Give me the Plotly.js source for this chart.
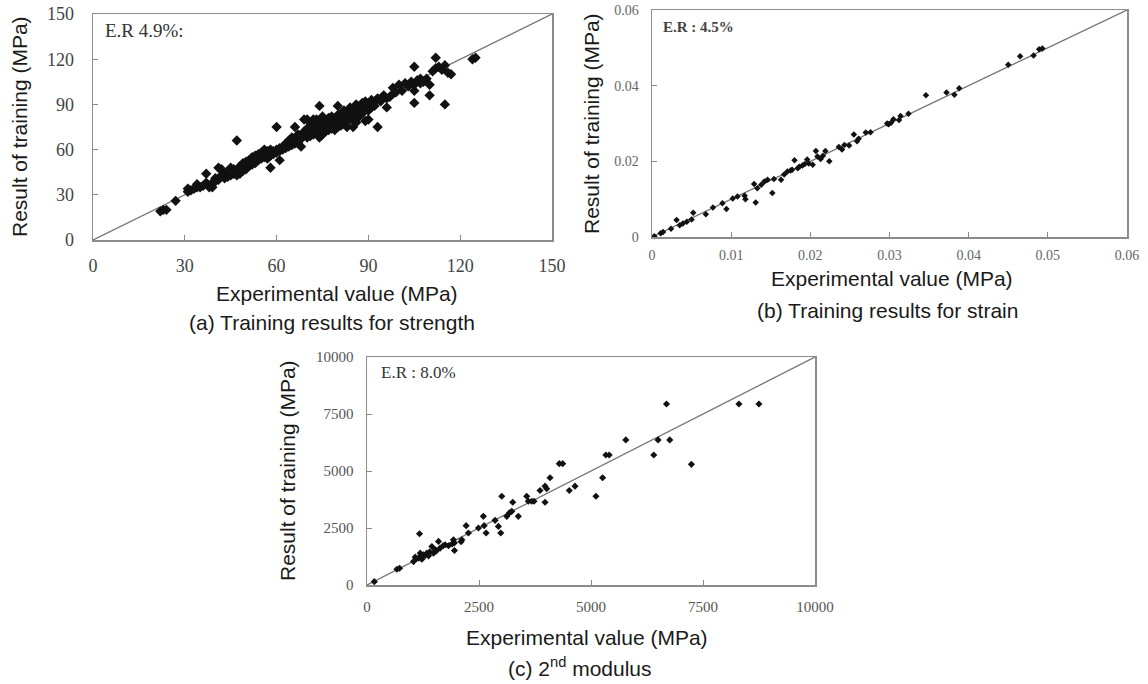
<!DOCTYPE html>
<html><head><meta charset="utf-8">
<script src="https://cdn.plot.ly/plotly-3.0.1.min.js"></script>
<style>html,body{margin:0;padding:0;background:#fff;}#chart{width:1148px;height:684px;}</style>
</head><body><div id="chart"></div>
<script>
// ---------- DATA ----------
// (a) strength
const aExp = [
 22,23,24,27,
 31,31,32,33,34,34,35,36,37,37,
 38,39,39,40,40,41,41,42,42,43,43,
 44,44,45,45,45,46,46,47,47,47,
 48,48,48,49,49,49,50,50,50,
 51,51,51,52,52,52,53,53,53,
 54,54,54,55,55,55,56,56,56,
 57,57,57,58,58,58,58,59,59,
 60,60,60,61,61,61,62,62,63,63,
 64,64,65,65,65,66,66,66,67,67,67,
 68,68,68,69,69,69,70,70,70,70,
 71,71,71,72,72,72,72,73,73,73,73,
 74,74,74,74,75,75,75,75,76,76,76,
 77,77,77,78,78,78,79,79,79,
 80,80,80,80,81,81,81,82,82,82,
 83,83,83,84,84,84,85,85,85,
 86,86,86,87,87,88,88,88,
 89,89,89,90,90,90,91,91,92,92,
 93,93,94,95,96,96,97,98,98,99,
 100,101,102,103,104,105,105,105,105,106,
 107,107,108,109,110,110,111,112,112,113,
 114,115,115,116,117,124,125
];
const aPred = [
 19,20,20,26,
 32,34,33,34,35,37,35,36,44,38,
 35,35,38,39,41,40,48,47,43,41,44,
 45,42,43,46,48,44,47,66,43,45,
 44,47,49,46,48,51,47,50,52,
 49,50,53,50,52,55,51,54,56,
 53,55,57,54,56,58,55,57,60,
 54,57,59,48,56,58,60,57,59,
 75,58,60,53,59,61,60,62,61,64,
 62,66,63,65,68,75,64,67,64,66,70,
 62,67,69,70,72,80,68,71,74,80,
 69,73,78,70,72,76,80,71,74,77,80,
 68,72,76,89,70,74,78,82,72,75,79,
 73,77,81,74,78,82,73,76,80,
 89,75,78,83,76,80,84,77,81,86,
 75,79,83,80,85,88,75,82,87,
 78,84,90,82,86,84,88,91,
 79,87,92,80,86,90,88,93,89,92,
 75,94,92,96,88,94,95,97,101,98,
 103,99,104,102,105,115,91,99,103,106,
 104,107,105,107,96,103,112,121,114,115,
 113,90,116,111,110,120,121
];
// (b) strain
const bExp = [
 0.0003,0.0011,0.0014,0.0024,0.0031,0.0035,0.0039,0.0044,0.005,0.0052,
 0.0068,0.0077,0.0089,0.0094,0.0102,0.0108,0.0117,0.0118,0.0131,0.0129,
 0.0133,0.0138,0.0142,0.0146,0.0152,0.0154,0.0163,0.0167,0.0171,0.0175,
 0.0177,0.018,0.0184,0.0186,0.019,0.0193,0.0196,0.0198,0.0203,0.0207,
 0.0209,0.0213,0.0216,0.0219,0.0224,0.0236,0.024,0.0243,0.0249,0.0255,
 0.0259,0.0261,0.027,0.0276,0.0297,0.0299,0.0302,0.0305,0.0314,0.0312,
 0.0324,0.0346,0.0372,0.0382,0.0388,0.045,0.0465,0.0482,0.0489,0.0493
];
const bPred = [
 0.0002,0.001,0.0013,0.0022,0.0045,0.0031,0.0036,0.004,0.0046,0.0064,
 0.006,0.0078,0.0089,0.0074,0.0102,0.0107,0.0109,0.01,0.0091,0.014,
 0.0129,0.0138,0.0147,0.0151,0.0116,0.0153,0.0151,0.0165,0.0173,0.0176,
 0.0178,0.0203,0.0182,0.0186,0.0189,0.0193,0.0205,0.0194,0.0191,0.0227,
 0.0213,0.0206,0.0215,0.0227,0.02,0.0238,0.0231,0.0243,0.0242,0.0271,
 0.0253,0.026,0.0276,0.0277,0.03,0.0298,0.0302,0.0311,0.032,0.0309,
 0.0326,0.0375,0.0382,0.0376,0.0393,0.0455,0.0478,0.048,0.0496,0.0498
];
// (c) 2nd modulus
const cExp = [
 163,668,727,1038,1076,1100,1150,1172,1188,1200,1225,1261,1300,1337,1373,1400,
 1448,1484,1522,1550,1596,1633,1700,1745,1818,1900,1930,1950,1952,2100,2117,2213,
 2264,2487,2598,2614,2658,2859,2933,2986,3008,3120,3178,3231,3253,3378,3565,3601,
 3677,3728,3862,3974,3974,4011,4085,4292,4368,4515,4643,5110,5259,5332,5406,5777,
 6401,6497,6685,6758,7241,8302,8748
];
const cPred = [
 146,692,736,1028,1221,1150,1177,2249,1398,1250,1133,1323,1300,1398,1279,1450,
 1689,1398,1543,1500,1910,1618,1720,1764,1720,1800,1984,1850,1513,1900,1984,2601,
 2279,2500,3012,2601,2279,2836,2571,2279,3893,3012,3160,3232,3629,3012,3893,3673,
 3673,3673,4145,3629,4335,4220,4704,5322,5322,4145,4335,3893,4704,5701,5701,6362,
 5701,6362,7937,6362,5291,7937,7937
];
// axes
const rangeA = [0, 150];
const rangeB = [0, 0.06];
const rangeC = [0, 10000];
const ticksA = [0, 30, 60, 90, 120, 150];
const ticksBx = [0, 0.01, 0.02, 0.03, 0.04, 0.05, 0.06];
const tickTextBx = ['0', '0.01', '0.02', '0.03', '0.04', '0.05', '0.06'];
const ticksBy = [0, 0.02, 0.04, 0.06];
const tickTextBy = ['0', '0.02', '0.04', '0.06'];
const ticksC = [0, 2500, 5000, 7500, 10000];
const tickTextC = ['0', '2500', '5000', '7500', '10000'];
const titleX = 'Experimental value (MPa)';
const titleY = 'Result of training (MPa)';
const captions = ['(a) Training results for strength', '(b) Training results for strain', '(c) 2<sup>nd</sup> modulus'];
const erLabels = ['E.R 4.9%:', 'E.R : 4.5%', 'E.R : 8.0%'];

// ---------- LAYOUT ----------
const W = 1148, H = 684;
const px = x => x / W, py = y => 1 - y / H;
const boxes = [
  {x0: 93, x1: 552, y0: 14, y1: 240},
  {x0: 652, x1: 1127, y0: 10, y1: 237},
  {x0: 367, x1: 815, y0: 357, y1: 585}
];
const tickStyles = [
  {size: 18, color: '#444', sx: 9, sy: 14},
  {size: 14, color: '#666', sx: 5, sy: 9},
  {size: 15, color: '#555', sx: 7, sy: 9}
];

function makeAxis(i, horiz, range, vals, text) {
  const b = boxes[i], t = tickStyles[i];
  return {
    domain: horiz ? [px(b.x0), px(b.x1)] : [py(b.y1), py(b.y0)],
    range: range, tickmode: 'array', tickvals: vals, ticktext: text,
    ticks: 'inside', ticklen: 5, tickwidth: 1, tickcolor: '#888',
    showline: true, mirror: true, linecolor: '#8c8c8c', linewidth: 1.5,
    showgrid: false, zeroline: false, fixedrange: true,
    tickfont: {family: 'Liberation Serif, Times New Roman, serif', size: t.size, color: t.color},
    ticklabelstandoff: horiz ? t.sx : t.sy
  };
}

const suffix = ['', '2', '3'];
const data = [];
const sets = [[aExp, aPred, rangeA, 8], [bExp, bPred, rangeB, 5], [cExp, cPred, rangeC, 5.5]];
sets.forEach((s, i) => {
  const xa = 'x' + suffix[i], ya = 'y' + suffix[i];
  data.push({x: s[2], y: s[2], mode: 'lines', line: {color: '#777', width: 1.3}, xaxis: xa, yaxis: ya, hoverinfo: 'skip', showlegend: false});
  data.push({x: s[0], y: s[1], mode: 'markers', marker: {symbol: 'diamond', size: s[3], color: '#111', line: {width: 0}}, xaxis: xa, yaxis: ya, showlegend: false, cliponaxis: false});
});

const labelsA = ticksA.map(String);
const layout = {
  width: W, height: H, margin: {l: 0, r: 0, t: 0, b: 0},
  paper_bgcolor: '#fff', plot_bgcolor: '#fff', showlegend: false,
  xaxis: Object.assign(makeAxis(0, true, rangeA, ticksA, labelsA), {anchor: 'y'}),
  yaxis: Object.assign(makeAxis(0, false, rangeA, ticksA, labelsA), {anchor: 'x'}),
  xaxis2: Object.assign(makeAxis(1, true, rangeB, ticksBx, tickTextBx), {anchor: 'y2'}),
  yaxis2: Object.assign(makeAxis(1, false, rangeB, ticksBy, tickTextBy), {anchor: 'x2'}),
  xaxis3: Object.assign(makeAxis(2, true, rangeC, ticksC, tickTextC), {anchor: 'y3'}),
  yaxis3: Object.assign(makeAxis(2, false, rangeC, ticksC, tickTextC), {anchor: 'x3'}),
  annotations: []
};

const sansFont = s => ({family: 'Liberation Sans, Arial, sans-serif', size: s, color: '#1a1a1a'});
const txtPos = [
  {xt: [337, 293], yt: [20, 127], cap: [332, 322], er: [103, 30, 19, '#333', false]},
  {xt: [892, 278], yt: [591, 124], cap: [887, 310], er: [661, 27, 15, '#444', true]},
  {xt: [587, 637], yt: [287, 471], cap: [580, 667], er: [379, 373, 17, '#333', false]}
];
txtPos.forEach((p, i) => {
  const A = layout.annotations;
  A.push({text: titleX, xref: 'paper', yref: 'paper', x: px(p.xt[0]), y: py(p.xt[1]), xanchor: 'center', yanchor: 'middle', showarrow: false, font: sansFont(21)});
  A.push({text: titleY, xref: 'paper', yref: 'paper', x: px(p.yt[0]), y: py(p.yt[1]), xanchor: 'center', yanchor: 'middle', textangle: -90, showarrow: false, font: sansFont(21)});
  A.push({text: captions[i], xref: 'paper', yref: 'paper', x: px(p.cap[0]), y: py(p.cap[1]), xanchor: 'center', yanchor: 'middle', showarrow: false, font: sansFont(21)});
  const e = p.er;
  A.push({text: e[4] ? '<b>' + erLabels[i] + '</b>' : erLabels[i], xref: 'paper', yref: 'paper', x: px(e[0]), y: py(e[1]), xanchor: 'left', yanchor: 'middle', showarrow: false,
    font: {family: 'Liberation Serif, Times New Roman, serif', size: e[2], color: e[3]}});
});

Plotly.newPlot('chart', data, layout, {staticPlot: true, displayModeBar: false});
</script>
</body></html>
